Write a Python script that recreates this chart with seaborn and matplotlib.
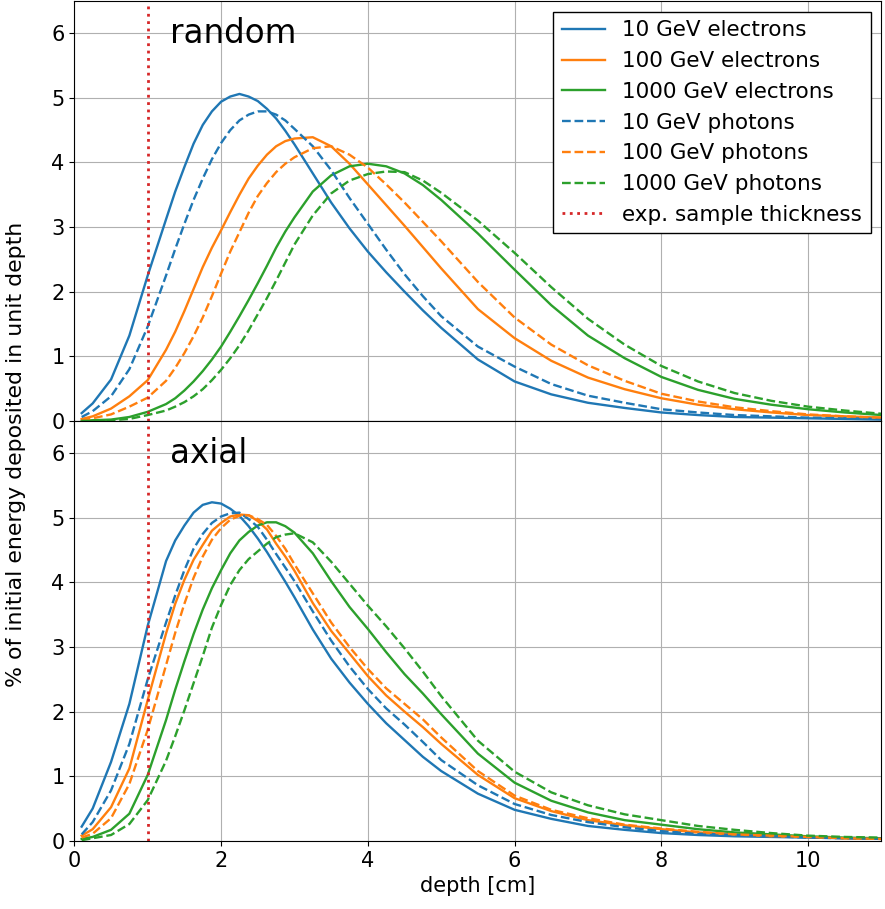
import numpy as np
import pandas as pd
import matplotlib
matplotlib.use("Agg")
import matplotlib.pyplot as plt
import seaborn as sns

# ── Data ─────────────────────────────────────────────────────────────────────
DEPTH = [0.1, 0.25, 0.5, 0.75, 1.0,
         1.25, 1.375, 1.5, 1.625, 1.75, 1.875, 2.0, 2.125, 2.25, 2.375, 2.5,
         2.625, 2.75, 2.875, 3.0,
         3.25, 3.5, 3.75, 4.0, 4.25, 4.5, 4.75, 5.0,
         5.5, 6.0, 6.5, 7.0, 7.5, 8.0, 8.5, 9.0, 9.5, 10.0, 10.5, 11.0]

# random orientation
random_e10 = [0.12, 0.27, 0.64, 1.32, 2.25,
              3.12, 3.55, 3.93, 4.29, 4.58, 4.79, 4.94, 5.02, 5.06, 5.02, 4.95,
              4.83, 4.68, 4.49, 4.28,
              3.83, 3.38, 2.98, 2.62, 2.30, 2.00, 1.71, 1.44,
              0.95, 0.61, 0.41, 0.28, 0.20, 0.13, 0.09, 0.06, 0.05, 0.04, 0.03, 0.02]
random_e100 = [0.03, 0.07, 0.19, 0.38, 0.63,
               1.10, 1.38, 1.70, 2.04, 2.38, 2.68, 2.95, 3.23, 3.50, 3.75, 3.95,
               4.12, 4.25, 4.33, 4.37,
               4.39, 4.25, 3.98, 3.66, 3.34, 3.02, 2.69, 2.36,
               1.73, 1.28, 0.93, 0.67, 0.49, 0.35, 0.25, 0.18, 0.13, 0.09, 0.07, 0.05]
random_e1000 = [0.00, 0.01, 0.02, 0.06, 0.14,
                0.26, 0.35, 0.47, 0.61, 0.77, 0.95, 1.15, 1.38, 1.62, 1.87, 2.13,
                2.40, 2.68, 2.93, 3.15,
                3.55, 3.80, 3.94, 3.98, 3.94, 3.83, 3.65, 3.42,
                2.90, 2.34, 1.79, 1.32, 0.97, 0.68, 0.48, 0.34, 0.25, 0.18, 0.13, 0.09]
random_g10 = [0.06, 0.15, 0.38, 0.80, 1.46,
              2.25, 2.66, 3.05, 3.42, 3.75, 4.05, 4.30, 4.50, 4.65, 4.74, 4.79,
              4.79, 4.74, 4.65, 4.52,
              4.25, 3.88, 3.45, 3.05, 2.65, 2.27, 1.93, 1.62,
              1.15, 0.84, 0.57, 0.39, 0.28, 0.18, 0.13, 0.09, 0.07, 0.05, 0.04, 0.03]
random_g100 = [0.01, 0.04, 0.10, 0.22, 0.36,
               0.62, 0.82, 1.05, 1.31, 1.60, 1.93, 2.28, 2.62, 2.92, 3.22, 3.48,
               3.68, 3.85, 3.98, 4.08,
               4.22, 4.25, 4.12, 3.92, 3.66, 3.38, 3.08, 2.78,
               2.15, 1.60, 1.18, 0.86, 0.62, 0.42, 0.30, 0.21, 0.15, 0.10, 0.07, 0.05]
random_g1000 = [0.00, 0.00, 0.01, 0.03, 0.09,
                0.16, 0.22, 0.29, 0.38, 0.49, 0.63, 0.79, 0.97, 1.17, 1.40, 1.65,
                1.90, 2.17, 2.45, 2.73,
                3.18, 3.52, 3.72, 3.82, 3.86, 3.85, 3.72, 3.53,
                3.10, 2.60, 2.07, 1.58, 1.18, 0.85, 0.61, 0.43, 0.31, 0.22, 0.16, 0.11]

# axial orientation
axial_e10 = [0.22, 0.50, 1.22, 2.12, 3.33,
             4.33, 4.65, 4.88, 5.08, 5.20, 5.24, 5.22, 5.14, 5.03, 4.87, 4.68,
             4.47, 4.24, 4.01, 3.77,
             3.27, 2.82, 2.45, 2.12, 1.82, 1.56, 1.30, 1.08,
             0.73, 0.48, 0.34, 0.23, 0.17, 0.12, 0.09, 0.07, 0.06, 0.05, 0.04, 0.03]
axial_e100 = [0.08, 0.18, 0.52, 1.12, 2.18,
              3.21, 3.67, 4.04, 4.35, 4.58, 4.80, 4.92, 5.02, 5.05, 5.04, 4.95,
              4.82, 4.60, 4.40, 4.18,
              3.68, 3.25, 2.90, 2.55, 2.25, 2.00, 1.76, 1.50,
              1.02, 0.66, 0.46, 0.32, 0.24, 0.18, 0.13, 0.10, 0.07, 0.06, 0.04, 0.03]
axial_e1000 = [0.03, 0.06, 0.17, 0.42, 1.02,
               1.87, 2.34, 2.78, 3.20, 3.58, 3.91, 4.19, 4.45, 4.65, 4.78, 4.88,
               4.93, 4.93, 4.87, 4.77,
               4.45, 4.02, 3.62, 3.28, 2.92, 2.58, 2.28, 1.96,
               1.35, 0.90, 0.62, 0.44, 0.32, 0.25, 0.18, 0.13, 0.10, 0.07, 0.05, 0.04]
axial_g10 = [0.10, 0.29, 0.78, 1.50, 2.50,
             3.38, 3.80, 4.19, 4.52, 4.75, 4.92, 5.02, 5.07, 5.08, 4.98, 4.86,
             4.66, 4.44, 4.23, 4.02,
             3.55, 3.10, 2.70, 2.35, 2.05, 1.80, 1.53, 1.25,
             0.86, 0.57, 0.40, 0.29, 0.21, 0.15, 0.11, 0.09, 0.07, 0.05, 0.04, 0.03]
axial_g100 = [0.05, 0.11, 0.35, 0.88, 1.72,
              2.72, 3.22, 3.67, 4.07, 4.40, 4.66, 4.84, 4.97, 5.03, 5.04, 4.98,
              4.89, 4.72, 4.52, 4.28,
              3.83, 3.38, 3.00, 2.66, 2.36, 2.12, 1.88, 1.60,
              1.08, 0.70, 0.48, 0.35, 0.25, 0.19, 0.14, 0.10, 0.08, 0.06, 0.04, 0.03]
axial_g1000 = [0.01, 0.04, 0.09, 0.26, 0.63,
               1.24, 1.62, 2.02, 2.44, 2.86, 3.30, 3.65, 3.96, 4.19, 4.36, 4.48,
               4.60, 4.70, 4.74, 4.76,
               4.62, 4.32, 3.98, 3.64, 3.32, 2.98, 2.62, 2.24,
               1.55, 1.07, 0.75, 0.55, 0.41, 0.32, 0.23, 0.17, 0.12, 0.08, 0.06, 0.05]

LABELS = ["10 GeV electrons", "100 GeV electrons", "1000 GeV electrons",
          "10 GeV photons", "100 GeV photons", "1000 GeV photons"]
SAMPLE_THICKNESS = 1.0

# Plot styling
COLORS = ["#1f77b4", "#ff7f0e", "#2ca02c"] * 2
STYLES = ["-"] * 3 + ["--"] * 3
plt.rcParams["font.size"] = 15


def draw_panel(ax, series, title, with_legend):
    """Six shower profiles plus the sample-thickness marker."""
    for vals, lab, col, ls in zip(series, LABELS, COLORS, STYLES):
        df = pd.DataFrame({"depth": DEPTH, "edep": vals})
        sns.lineplot(data=df, x="depth", y="edep", ax=ax, color=col,
                     linestyle=ls, linewidth=1.7,
                     label=lab if with_legend else None, legend=False)
    ax.axvline(SAMPLE_THICKNESS, color="#d62728", linestyle=":", linewidth=2,
               label="exp. sample thickness" if with_legend else None)
    ax.text(1.3, 6.0, title, fontsize=23.5, va="center")
    ax.set_xlim(0, 11)
    ax.set_ylim(0, 6.5)
    ax.set_yticks(range(0, 7))
    ax.set_xticks(range(0, 12, 2))
    ax.grid(True, color="#b0b0b0", linewidth=0.8)
    ax.set_axisbelow(True)
    ax.set_xlabel("")
    ax.set_ylabel("")
    if with_legend:
        ax.legend(loc="upper right", fancybox=False, edgecolor="black",
                  framealpha=1, fontsize=15.5)


def main():
    fig, axes = plt.subplots(2, 1, figsize=(8.85, 9.09), dpi=100, sharex=True)
    fig.subplots_adjust(left=0.084, right=0.996, top=0.999, bottom=0.075, hspace=0)

    draw_panel(axes[0], [random_e10, random_e100, random_e1000,
                         random_g10, random_g100, random_g1000], "random", True)
    draw_panel(axes[1], [axial_e10, axial_e100, axial_e1000,
                         axial_g10, axial_g100, axial_g1000], "axial", False)

    axes[1].set_xlabel("depth [cm]")
    fig.text(0.018, 0.5, "% of initial energy deposited in unit depth",
             rotation=90, va="center", ha="center", fontsize=15.8)

    fig.savefig("out.png", dpi=100)
    plt.close(fig)


if __name__ == "__main__":
    main()
